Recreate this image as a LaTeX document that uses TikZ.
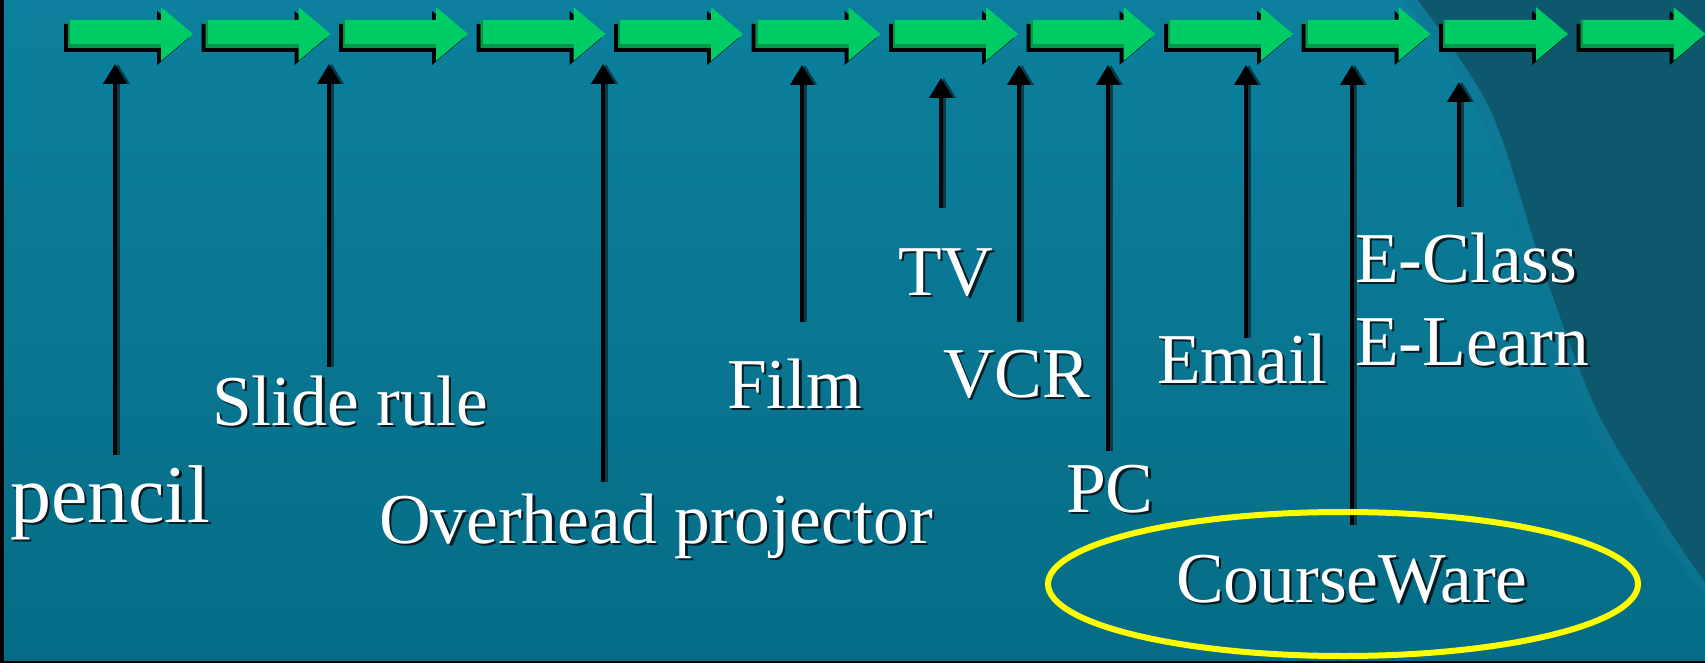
\documentclass[tikz,border=0pt]{standalone}
\usepackage{fontspec}
\setmainfont{Liberation Serif}
\usetikzlibrary{arrows.meta}
\definecolor{bgtop}{RGB}{12,128,158}
\definecolor{bgbot}{RGB}{6,108,134}
\definecolor{bgdark}{RGB}{13,88,108}
\definecolor{ridge}{RGB}{16,118,148}
\definecolor{garrowc}{RGB}{0,204,102}
\definecolor{garrowd}{RGB}{0,150,75}
\definecolor{vshadow}{RGB}{4,60,76}
\definecolor{ringc}{RGB}{255,255,0}
\newcommand\mylabel[5]{%
  \node[lblsh, font=\fontsize{#4}{#4}\selectfont] (#1s) at (#2+2.5,#3+2.5) {#5};
  \node[lbl, font=\fontsize{#4}{#4}\selectfont] (#1) at (#2,#3) {#5};
}
\begin{document}
\begin{tikzpicture}[x=1pt,y=-1pt,
  lbl/.style={anchor=base west, inner sep=0pt, outer sep=0pt, text=white},
  lblsh/.style={anchor=base west, inner sep=0pt, outer sep=0pt, text=black, text opacity=0.75},
  vline/.style={line width=4pt, draw=black, -{Triangle[width=23pt,length=20pt]}},
  vlinesh/.style={line width=4pt, draw=vshadow, -{Triangle[width=23pt,length=20pt]}},
  ring/.style={draw=ringc, line width=6pt},
  garrow/.pic={
    \fill[black] (-4,24) -- (89,24) -- (89,11) -- (121,38) -- (89,65) -- (89,52) -- (-4,52) -- cycle;
    \fill[garrowc] (0,20) -- (93,20) -- (93,7) -- (125,34) -- (93,61) -- (93,48) -- (0,48) -- cycle;
    \fill[garrowd] (0,44) rectangle (93,48);
    \fill[garrowd] (0,20) rectangle (2,48);
  }
]
\useasboundingbox (0,0) rectangle (1705,663);
% background
\shade[top color=bgtop, bottom color=bgbot] (0,0) rectangle (1705,663);
\draw[ridge, line width=12pt, opacity=0.6] plot[smooth] coordinates {(1407,-5) (1484,109) (1538,272) (1592,413) (1658,522) (1712,595)};
\fill[bgdark] plot[smooth] coordinates {(1414,-5) (1490,109) (1544,272) (1598,413) (1664,522) (1712,592)} -- (1712,-5) -- cycle;
\fill[black] (0,0) rectangle (4,663);
\fill[black] (0,661) rectangle (1705,663);
% timeline arrows
\foreach \i in {0,...,11} {
  \pic at (68+137.5*\i,0) {garrow};
}
% vertical pointers
\foreach \n/\x/\t/\b in {pen/115/64/455, sli/329/64/367, ove/603/64/482, fil/802/65/322, tv/941/78/208, vcr/1019/65/322, pc/1108/65/451, ema/1246/65/338, cou/1352/65/525, ecl/1459/82/207} {
  \coordinate (\n-b) at (\x,\b);
  \coordinate (\n-t) at (\x,\t);
  \coordinate (\n-bs) at (\x+3,\b);
  \coordinate (\n-ts) at (\x+3,\t);
  \draw[vlinesh] (\n-bs) -- (\n-ts);
  \draw[vline] (\n-b) -- (\n-t);
}
% ring
\draw[ring] (1343,584) ellipse [x radius=295pt, y radius=72pt];
% labels
\mylabel{pencil}{10}{522}{82}{pencil}
\mylabel{slide}{212}{425}{71.5}{Slide rule}
\mylabel{overhead}{379}{543}{71.5}{Overhead projector}
\mylabel{film}{727}{408}{71.5}{Film}
\mylabel{tvl}{898}{295}{71.5}{TV}
\mylabel{vcrl}{943}{397}{71.5}{VCR}
\mylabel{pcl}{1066}{512}{71.5}{PC}
\mylabel{email}{1157}{383}{71.5}{Email}
\mylabel{eclass}{1355}{282}{71.5}{E-Class}
\mylabel{elearn}{1355}{365}{71.5}{E-Learn}
\mylabel{course}{1176}{602}{71.5}{CourseWare}
\end{tikzpicture}
\end{document}
